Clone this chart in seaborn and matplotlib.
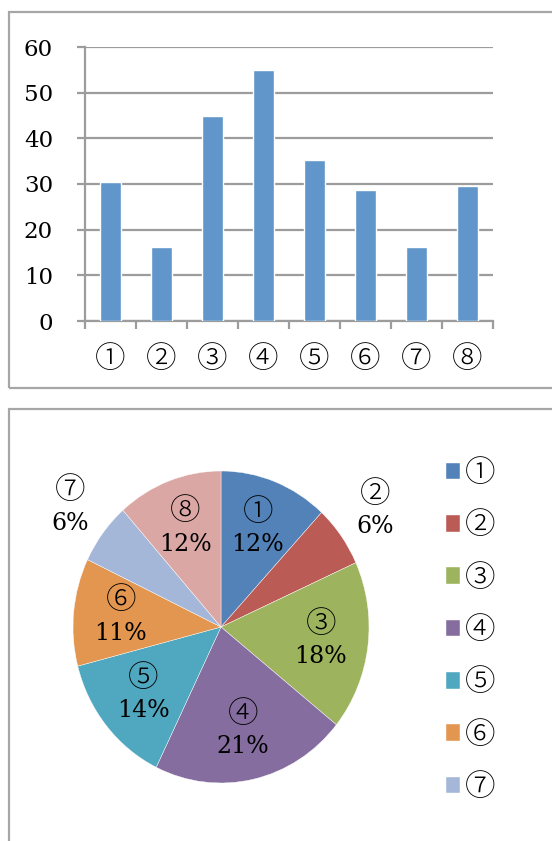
import numpy as np
import matplotlib
matplotlib.use("Agg")
import matplotlib.pyplot as plt
from matplotlib.patches import Rectangle
import seaborn as sns

categories = ["①", "②", "③", "④", "⑤", "⑥", "⑦", "⑧"]
values = [30.5, 16.3, 45.0, 55.0, 35.3, 28.6, 16.3, 29.6]
yticks = [0, 10, 20, 30, 40, 50, 60]
pie_colors = ["#5282B8", "#BA5B55", "#9DB35E", "#856D9F", "#4FA8BF", "#E3964F", "#A4B7D8", "#DBA7A4"]
bar_color = "#6096C9"

sns.set_theme(style="white")
FONT = ["DejaVu Serif", "Noto Sans CJK JP"]
CIRC = ["Noto Sans CJK JP", "DejaVu Serif"]
plt.rcParams["font.family"] = FONT
plt.rcParams["text.color"] = "black"

W, H = 552, 841
fig = plt.figure(figsize=(W / 100, H / 100), dpi=100)

def fx(px):
    return px / W

def fy(py):
    return 1 - py / H

# outer boxes
border = "#A6A6A6"
fig.patches.append(Rectangle((fx(8.5), fy(388)), fx(560), fy(12) - fy(388), transform=fig.transFigure,
                             fill=False, edgecolor=border, linewidth=1.6))
fig.patches.append(Rectangle((fx(8.5), fy(860)), fx(560), fy(409) - fy(860), transform=fig.transFigure,
                             fill=False, edgecolor=border, linewidth=1.6))

# ---- bar chart ----
ax1 = fig.add_axes([fx(85), fy(321), fx(493) - fx(85), fy(47) - fy(321)])
sns.barplot(x=categories, y=values, color=bar_color, width=0.4, saturation=1, ax=ax1, zorder=3)
ax1.set_ylim(0, 60)
ax1.set_xlim(-0.5, len(categories) - 0.5)
ax1.set_yticks(yticks)
ax1.set_yticklabels([str(t) for t in yticks], fontsize=16.5)
ax1.set_xlabel("")
ax1.set_ylabel("")
grid_c = "#9C9C9C"
for t in yticks:
    ax1.axhline(t, color=grid_c, linewidth=1.6, zorder=1)
for s in ["top", "right"]:
    ax1.spines[s].set_visible(False)
for s in ["left", "bottom"]:
    ax1.spines[s].set_color(grid_c)
    ax1.spines[s].set_linewidth(1.6)
ax1.tick_params(axis="y", length=6, width=1.6, color=grid_c, pad=17, left=True, direction="out",
                labelcolor="black")
ax1.set_xticks(range(len(categories)))
ax1.set_xticklabels(categories, fontsize=22, family=CIRC, fontweight="light")
ax1.set_xticks(np.arange(-0.5, len(categories)), minor=True)
ax1.tick_params(axis="x", which="major", length=0, pad=16, labelcolor="black")
ax1.tick_params(axis="x", which="minor", length=6, width=1.6, color=grid_c, bottom=True, direction="out")
ax1.set_facecolor("white")

# ---- pie chart ----
ax2 = fig.add_axes([fx(73), fy(783), fx(369) - fx(73), fy(471) - fy(783)])
wedges, _ = ax2.pie(values, colors=pie_colors, startangle=90, counterclock=False, radius=1,
                    wedgeprops=dict(linewidth=0.3, edgecolor="white"))
ax2.set_aspect("auto")
ax2.set_xlim(-1, 1)
ax2.set_ylim(-1, 1)
ax2.axis("off")

total = sum(values)
ang = 90.0
for i, v in enumerate(values):
    span = 360.0 * v / total
    mid = np.deg2rad(ang - span / 2)
    ang -= span
    pct = 100 * v / total
    r = 1.28 if pct < 8 else 0.68
    cx, cy = r * np.cos(mid), r * np.sin(mid)
    ax2.text(cx, cy + 0.105, categories[i], ha="center", va="center", fontsize=22,
             family=CIRC, fontweight="light", color="black")
    ax2.text(cx, cy - 0.105, f"{pct:.0f}%", ha="center", va="center", fontsize=17,
             family=FONT, color="black")

leg = fig.legend(wedges[:7], categories[:7], loc="upper left",
                 bbox_to_anchor=(fx(446), fy(457)), frameon=False,
                 prop=dict(family=CIRC, size=22, weight="light"),
                 handlelength=0.46, handleheight=0.46, handletextpad=0.15,
                 labelspacing=0.665, borderaxespad=0, borderpad=0)
for t in leg.get_texts():
    t.set_color("black")

fig.savefig("out.png", dpi=100, facecolor="white")
